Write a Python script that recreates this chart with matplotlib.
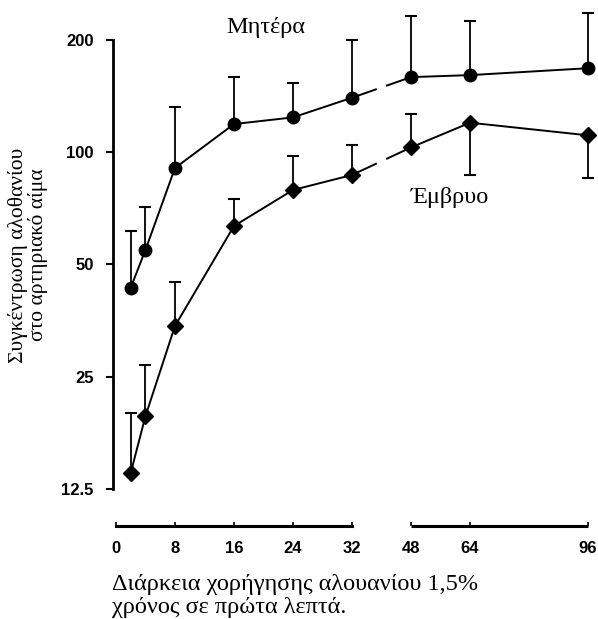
import numpy as np
import matplotlib
matplotlib.use("Agg")
import matplotlib.pyplot as plt

# time (minutes) and halothane concentration
minutes = [2, 4, 8, 16, 24, 32, 48, 64, 96]
mother = [43.3, 54.7, 90.7, 119, 124, 140, 159, 161, 168]
mother_top = [61.5, 71.3, 132, 159, 153, 200, 232, 225, 236]
fetus = [13.8, 19.6, 34.2, 63.4, 79.2, 86.9, 103, 120, 111]
fetus_top = [20.0, 26.9, 44.9, 74.9, 97.7, 104.6, 126.6, 120, 111]
fetus_bottom = [13.8, 19.6, 34.2, 63.4, 79.2, 86.9, 103, 86.9, 85.3]

xticks = [0, 8, 16, 24, 32, 48, 64, 96]
yticks = [12.5, 25, 50, 100, 200]
ytick_labels = ["12.5", "25", "50", "100", "200"]

serif = "Liberation Serif"
sans = "Liberation Sans"


# x axis is linear up to 32, then half the scale
def fwd(x):
    x = np.asarray(x, float)
    return np.where(x <= 32, x, 32 + (x - 32) / 2)


def inv(t):
    t = np.asarray(t, float)
    return np.where(t <= 32, t, 32 + (t - 32) * 2)


def broken(xs, ys, a=38.5, b=41.5):
    # line with a small gap in the segment between 32 and 48
    xs = list(xs)
    ys = list(ys)
    i = xs.index(32)
    x0, x1 = xs[i], xs[i + 1]
    ly0, ly1 = np.log(ys[i]), np.log(ys[i + 1])
    ya = np.exp(ly0 + (ly1 - ly0) * (a - x0) / (x1 - x0))
    yb = np.exp(ly0 + (ly1 - ly0) * (b - x0) / (x1 - x0))
    nx = xs[:i + 1] + [a, np.nan, b] + xs[i + 1:]
    ny = ys[:i + 1] + [ya, np.nan, yb] + ys[i + 1:]
    return nx, ny


fig = plt.figure(figsize=(5.98, 6.19), dpi=100)
ax = fig.add_axes([113 / 598, 130 / 619, 478.7 / 598, 489 / 619])
ax.set_xscale("function", functions=(fwd, inv))
ax.set_yscale("log")
ax.set_xlim(-0.4, 97)
ax.set_ylim(12.5, 256)

# error bars (one sided)
m = np.array(mother)
ax.errorbar(minutes, mother, yerr=[np.zeros(len(m)), np.array(mother_top) - m],
            fmt="none", ecolor="black", elinewidth=1.3, capsize=4, capthick=1.5,
            clip_on=False, zorder=2)
f = np.array(fetus)
ax.errorbar(minutes, fetus,
            yerr=[f - np.array(fetus_bottom), np.array(fetus_top) - f],
            fmt="none", ecolor="black", elinewidth=1.3, capsize=4, capthick=1.5,
            clip_on=False, zorder=2)

mx, my = broken(minutes, mother)
ax.plot(mx, my, color="black", lw=1.4, zorder=3)
fx, fy = broken(minutes, fetus)
ax.plot(fx, fy, color="black", lw=1.4, zorder=3)

ax.plot(minutes, mother, "o", color="black", ms=9, zorder=4, clip_on=False)
ax.plot(minutes, fetus, "D", color="black", ms=8.5, zorder=4, clip_on=False)

# spines
for s in ["top", "right"]:
    ax.spines[s].set_visible(False)
ax.spines["left"].set_bounds(12.5, 200)
ax.spines["left"].set_linewidth(2)
ax.spines["bottom"].set_position(("outward", 26.6))
ax.spines["bottom"].set_bounds(0, 32)
ax.spines["bottom"].set_linewidth(2.2)
ax.plot([48, 96], [-37 / 489, -37 / 489], color="black", lw=2.2,
        transform=ax.get_xaxis_transform(), clip_on=False, solid_capstyle="butt")

ax.set_yticks(yticks)
ax.set_yticklabels(ytick_labels)
ax.yaxis.set_minor_locator(matplotlib.ticker.NullLocator())
ax.set_xticks(xticks)
ax.set_xticklabels([str(v) for v in xticks])
ax.xaxis.set_minor_locator(matplotlib.ticker.NullLocator())
ax.tick_params(axis="y", direction="out", length=5, width=1.5, pad=9,
               labelsize=12)
ax.tick_params(axis="x", direction="in", length=3, width=1.2, pad=11,
               labelsize=12)
for lab in ax.get_xticklabels() + ax.get_yticklabels():
    lab.set_family(sans)
    lab.set_fontweight("bold")

fig.text(266 / 598, 1 - 27 / 619, "Μητέρα", family=serif, fontsize=17.5,
         ha="center", va="center")
fig.text(450 / 598, 1 - 198 / 619, "Έμβρυο", family=serif, fontsize=17.5,
         ha="center", va="center")
fig.text(28 / 598, 1 - 255 / 619, "Συγκέντρωση αλοθανίου\nστο αρτηριακό αίμα",
         family=serif, fontsize=15.5, rotation=90, ha="center", va="center",
         multialignment="center", linespacing=1.0)
fig.text(112 / 598, 1 - 590 / 619, "Διάρκεια χορήγησης αλουανίου 1,5%",
         family=serif, fontsize=17.5, ha="left", va="baseline")
fig.text(112 / 598, 1 - 613 / 619, "χρόνος σε πρώτα λεπτά.",
         family=serif, fontsize=17.5, ha="left", va="baseline")

fig.savefig("out.png", dpi=100)
